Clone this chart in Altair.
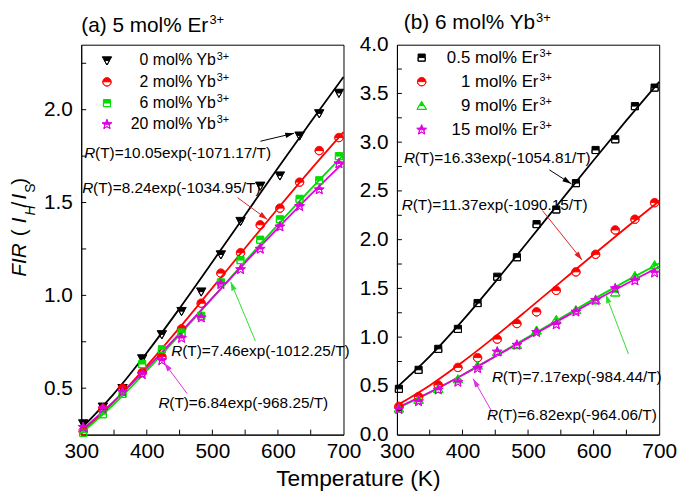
import math
import altair as alt
import pandas as pd

# ---------------- data ----------------
T_pts = [303, 333, 363, 393, 423, 453, 483, 513, 543, 573, 603, 633, 663, 693]
T_fit = [300, 350, 400, 450, 500, 550, 600, 650, 700]

a_labels = ["0 mol% Yb", "2 mol% Yb", "6 mol% Yb", "20 mol% Yb"]
a_yb0 = [0.31, 0.40, 0.50, 0.66, 0.79, 0.915, 1.02, 1.22, 1.40, 1.59, 1.645, 1.86, 1.98, 2.09]
a_yb2 = [0.27, 0.39, 0.50, 0.585, 0.67, 0.82, 0.958, 1.12, 1.23, 1.38, 1.47, 1.61, 1.78, 1.85]
a_yb6 = [0.26, 0.36, 0.47, 0.63, 0.71, 0.80, 0.89, 1.07, 1.19, 1.30, 1.41, 1.52, 1.62, 1.75]
a_yb20 = [0.29, 0.39, 0.48, 0.575, 0.65, 0.77, 0.88, 1.06, 1.14, 1.25, 1.37, 1.48, 1.57, 1.71]
a_fit0 = [0.283, 0.471, 0.691, 0.930, 1.180, 1.433, 1.686, 1.934, 2.176]
a_fit2 = [0.262, 0.428, 0.620, 0.826, 1.040, 1.255, 1.468, 1.677, 1.879]
a_fit6 = [0.256, 0.414, 0.594, 0.787, 0.985, 1.184, 1.381, 1.572, 1.757]
a_fit20 = [0.271, 0.430, 0.608, 0.795, 0.986, 1.176, 1.362, 1.542, 1.715]

b_labels = ["0.5 mol% Er", "1 mol% Er", "9 mol% Er", "15 mol% Er"]
b_er05 = [0.47, 0.665, 0.88, 1.085, 1.35, 1.62, 1.82, 2.16, 2.31, 2.58, 2.92, 3.03, 3.37, 3.56]
b_er1 = [0.29, 0.39, 0.51, 0.69, 0.79, 0.98, 1.14, 1.26, 1.48, 1.67, 1.85, 2.10, 2.21, 2.38]
b_er9 = [0.27, 0.36, 0.47, 0.57, 0.71, 0.85, 0.92, 1.07, 1.18, 1.28, 1.38, 1.46, 1.63, 1.74]
b_er15 = [0.26, 0.34, 0.46, 0.54, 0.68, 0.85, 0.92, 1.05, 1.13, 1.26, 1.38, 1.50, 1.58, 1.66]
b_fit05 = [0.485, 0.802, 1.169, 1.567, 1.981, 2.399, 2.815, 3.223, 3.619]
b_fit1 = [0.300, 0.505, 0.745, 1.008, 1.285, 1.567, 1.848, 2.125, 2.396]
b_fit9 = [0.269, 0.431, 0.612, 0.804, 1.001, 1.197, 1.390, 1.577, 1.757]
b_fit15 = [0.274, 0.434, 0.612, 0.801, 0.992, 1.182, 1.368, 1.548, 1.721]

# annotations (data coordinates)
a_ann_T = [304.5, 301.5, 437.4, 417.7]
a_ann_v = [1.766, 1.580, 0.700, 0.418]
a_ann_text = ["(T)=10.05exp(-1071.17/T)", "(T)=8.24exp(-1034.95/T)",
              "(T)=7.46exp(-1012.25/T)", "(T)=6.84exp(-968.25/T)"]
a_ar_T1 = [573.2, 538.5, 565.7, 461.5]
a_ar_v1 = [1.830, 1.526, 0.754, 0.471]
a_ar_T2 = [624.5, 583.8, 527.9, 426.8]
a_ar_v2 = [1.873, 1.409, 1.073, 0.636]

b_ann_T = [310.6, 307.5, 444.9, 437.4]
b_ann_v = [2.838, 2.360, 0.594, 0.198]
b_ann_text = ["(T)=16.33exp(-1054.81/T)", "(T)=11.37exp(-1090.15/T)",
              "(T)=7.17exp(-984.44/T)", "(T)=6.82exp(-964.06/T)"]
b_ar_T1 = [532.5, 521.9, 653.2, 446.4]
b_ar_v1 = [2.716, 2.299, 0.827, 0.218]
b_ar_T2 = [565.7, 582.3, 618.5, 416.2]
b_ar_v2 = [2.574, 1.792, 1.437, 0.574]

x_label_vals = [300, 400, 500, 600, 700]
x_tick_vals = [350, 400, 450, 500, 550, 600, 650]
a_ylabel_vals = [0.5, 1.0, 1.5, 2.0]
a_ytick_vals = [0.5, 0.75, 1.0, 1.25, 1.5, 1.75, 2.0, 2.25]
b_ylabel_vals = [0.0, 0.5, 1.0, 1.5, 2.0, 2.5, 3.0, 3.5, 4.0]
b_ytick_vals = [0.25, 0.5, 0.75, 1.0, 1.25, 1.5, 1.75, 2.0, 2.25, 2.5, 2.75, 3.0, 3.25, 3.5, 3.75]

# ---------------- styles ----------------
W, H = 265, 394
COLORS = ["#000000", "#ff0000", "#00dd00", "#e000e0"]
ARROW_COLORS = ["#000000", "#e02020", "#30dd30", "#e030e0"]
FONT = "Liberation Sans"


def _fmt(pts):
    return "M" + "L".join(f"{x:.3f},{y:.3f}" for x, y in pts) + "Z"


def _area(pts):
    n = len(pts)
    return sum(pts[i][0] * pts[(i + 1) % n][1] - pts[(i + 1) % n][0] * pts[i][1] for i in range(n)) / 2


def _clip_lower(pts, y0=0.0):
    out = []
    n = len(pts)
    for i in range(n):
        p, q = pts[i - 1], pts[i]
        pin, qin = p[1] >= y0, q[1] >= y0
        if qin != pin:
            t = (y0 - p[1]) / (q[1] - p[1])
            out.append((p[0] + t * (q[0] - p[0]), y0))
        if qin:
            out.append(q)
    return out


def half_filled(pts, y0=0.0):
    low = _clip_lower(pts, y0)
    if _area(low) * _area(pts) > 0:
        low = low[::-1]
    return _fmt(pts) + _fmt(low)


circle_pts = [(0.85 * math.cos(2 * math.pi * k / 36), 0.85 * math.sin(2 * math.pi * k / 36)) for k in range(36)]
star_pts = []
for k in range(10):
    r = 1.05 if k % 2 == 0 else 0.45
    a = -math.pi / 2 + k * math.pi / 5
    star_pts.append((r * math.cos(a), r * math.sin(a)))
square_pts = [(-0.72, -0.72), (0.72, -0.72), (0.72, 0.72), (-0.72, 0.72)]
tri_down_pts = [(-0.95, -0.75), (0.95, -0.75), (0.0, 0.9)]
tri_up_pts = [(0.0, -0.9), (0.95, 0.75), (-0.95, 0.75)]

SH_CIRCLE = half_filled(circle_pts)
SH_STAR = half_filled(star_pts)
SH_SQUARE = half_filled(square_pts)
SH_TDOWN = half_filled(tri_down_pts)
SH_TUP = half_filled(tri_up_pts)
ARROW_PATH = "M0,0L0.5,1.6L-0.5,1.6Z"


def txt(text, x, y, **props):
    return alt.Chart(pd.DataFrame({"t": [text]})).mark_text(**props).encode(
        x=alt.value(x), y=alt.value(y), text="t:N")


def sym(path, color, x, y):
    return alt.Chart(pd.DataFrame({"k": [0]})).mark_point(
        shape=path, filled=True, fill=color, stroke=color, strokeWidth=1, size=100, opacity=1
    ).encode(x=alt.value(x), y=alt.value(y))


def legend_layers(labels, shapes, sym_x, rows, label_end, font):
    out = []
    for lab, shp, col, ry in zip(labels, shapes, COLORS, rows):
        out.append(sym(shp, col, sym_x, ry))
        out.append(txt(lab, label_end, ry, fontSize=font, align="right", baseline="middle"))
        out.append(txt("3+", label_end + 1, ry - 1, fontSize=11, align="left", baseline="alphabetic"))
    return out


def make_panel(labels, pts_lists, fit_lists, shapes, ydom, ylabels, yticks,
               ann_T, ann_v, ann_text, T1, v1, T2, v2, extra):
    pts_df = pd.DataFrame([{"T": t, "v": v, "s": lab}
                           for lab, vals in zip(labels, pts_lists) for t, v in zip(T_pts, vals)])
    fit_df = pd.DataFrame([{"T": t, "v": v, "s": lab}
                           for lab, vals in zip(labels, fit_lists) for t, v in zip(T_fit, vals)])
    xs = alt.Scale(domain=[300, 700], nice=False, zero=False)
    ys = alt.Scale(domain=ydom, nice=False, zero=False)
    xax = alt.Axis(values=x_label_vals, format="d", title=None, ticks=False, tickSize=0,
                   labelPadding=6, grid=False, labelFontSize=21, labelColor="black",
                   domainColor="black", labelFlush=False)
    yax = alt.Axis(values=ylabels, format=".1f", title=None, ticks=False, tickSize=0,
                   labelPadding=9, grid=False, labelFontSize=21, labelColor="black",
                   domainColor="black", labelFlush=False)

    def X(f):
        return alt.X(f, scale=xs, axis=xax)

    def Y(f):
        return alt.Y(f, scale=ys, axis=yax)

    csc = alt.Scale(domain=labels, range=COLORS)
    ssc = alt.Scale(domain=labels, range=shapes)

    lines = alt.Chart(fit_df).mark_line(strokeWidth=1.8, interpolate="monotone").encode(
        x=X("T:Q"), y=Y("v:Q"), color=alt.Color("s:N", scale=csc, legend=None))
    points = alt.Chart(pts_df).mark_point(filled=True, size=100, strokeWidth=1, opacity=1).encode(
        x=X("T:Q"), y=Y("v:Q"),
        fill=alt.Fill("s:N", scale=csc, legend=None),
        stroke=alt.Stroke("s:N", scale=csc, legend=None),
        shape=alt.Shape("s:N", scale=ssc, legend=None))

    sx = W / 400.0
    sy = H / (ydom[1] - ydom[0])
    rows = []
    for i in range(len(T1)):
        dxp = (T2[i] - T1[i]) * sx
        dyp = -(v2[i] - v1[i]) * sy
        ang = math.degrees(math.atan2(dxp, -dyp)) % 360
        rows.append(dict(T1=T1[i], v1=v1[i], T2=T2[i], v2=v2[i], ang=ang, c=ARROW_COLORS[i]))
    ar_df = pd.DataFrame(rows)
    arrows = alt.Chart(ar_df).mark_rule(strokeWidth=1).encode(
        x=X("T1:Q"), y=Y("v1:Q"), x2=alt.X2("T2"), y2=alt.Y2("v2"),
        color=alt.Color("c:N", scale=None))
    heads = alt.Chart(ar_df).mark_point(filled=True, size=121, shape=ARROW_PATH, opacity=1,
                                        strokeWidth=0).encode(
        x=X("T2:Q"), y=Y("v2:Q"), angle=alt.Angle("ang:Q", scale=None),
        color=alt.Color("c:N", scale=None))

    ann_df = pd.DataFrame({"T": ann_T, "v": ann_v, "r": ["R"] * len(ann_T), "t": ann_text})
    ann_r = alt.Chart(ann_df).mark_text(fontSize=15.5, fontStyle="italic", align="left",
                                        baseline="middle").encode(x=X("T:Q"), y=Y("v:Q"), text="r:N")
    ann_t = alt.Chart(ann_df).mark_text(fontSize=15.5, align="left", baseline="middle", dx=11).encode(
        x=X("T:Q"), y=Y("v:Q"), text="t:N")

    yt = alt.Chart(pd.DataFrame({"v": yticks})).mark_rule(color="black", strokeWidth=1).encode(
        y=Y("v:Q"), x=alt.value(0), x2=alt.value(5))
    xt = alt.Chart(pd.DataFrame({"T": x_tick_vals})).mark_rule(color="black", strokeWidth=1).encode(
        x=X("T:Q"), y=alt.value(H), y2=alt.value(H - 5))

    return alt.layer(lines, points, arrows, heads, ann_r, ann_t, yt, xt, *extra).properties(
        width=W, height=H)


# left panel decorations
ytitle_x = -56
ybase = 234.5
left_extra = [
    txt("(a) 5 mol% Er", 0, -12.5, fontSize=21, align="left", baseline="alphabetic"),
    txt("3+", 129.5, -20.5, fontSize=13, align="left", baseline="alphabetic"),
    txt("FIR", ytitle_x, ybase - 0, fontSize=21, fontStyle="italic", angle=270, align="left", baseline="alphabetic"),
    txt("(", ytitle_x, ybase - 41, fontSize=21, angle=270, align="left", baseline="alphabetic"),
    txt("I", ytitle_x, ybase - 54, fontSize=21, fontStyle="italic", angle=270, align="left", baseline="alphabetic"),
    txt("H", ytitle_x + 9, ybase - 62, fontSize=14, fontStyle="italic", angle=270, align="left", baseline="alphabetic"),
    txt("/", ytitle_x, ybase - 70, fontSize=21, angle=270, align="left", baseline="alphabetic"),
    txt("I", ytitle_x, ybase - 78, fontSize=21, fontStyle="italic", angle=270, align="left", baseline="alphabetic"),
    txt("S", ytitle_x + 9, ybase - 85, fontSize=14, angle=270, align="left", baseline="alphabetic"),
    txt(")", ytitle_x, ybase - 93, fontSize=21, angle=270, align="left", baseline="alphabetic"),
    txt("Temperature (K)", 280, 445.5, fontSize=23, align="center", baseline="alphabetic"),
] + legend_layers(a_labels, [SH_TDOWN, SH_CIRCLE, SH_SQUARE, SH_STAR], 26,
                  [16, 37.5, 59, 80.5], 136, 16)

right_extra = [
    txt("(b) 6 mol% Yb", 7, -15.5, fontSize=21, align="left", baseline="alphabetic"),
    txt("3+", 140.5, -23, fontSize=13, align="left", baseline="alphabetic"),
] + legend_layers(b_labels, [SH_SQUARE, SH_CIRCLE, SH_TUP, SH_STAR], 25,
                  [13, 37.3, 61.6, 86], 143, 17)

left = make_panel(a_labels, [a_yb0, a_yb2, a_yb6, a_yb20], [a_fit0, a_fit2, a_fit6, a_fit20],
                  [SH_TDOWN, SH_CIRCLE, SH_SQUARE, SH_STAR], [0.25, 2.35], a_ylabel_vals, a_ytick_vals,
                  a_ann_T, a_ann_v, a_ann_text, a_ar_T1, a_ar_v1, a_ar_T2, a_ar_v2, left_extra)
right = make_panel(b_labels, [b_er05, b_er1, b_er9, b_er15], [b_fit05, b_fit1, b_fit9, b_fit15],
                   [SH_SQUARE, SH_CIRCLE, SH_TUP, SH_STAR], [0.0, 4.0], b_ylabel_vals, b_ytick_vals,
                   b_ann_T, b_ann_v, b_ann_text, b_ar_T1, b_ar_v1, b_ar_T2, b_ar_v2, right_extra)

chart = alt.hconcat(left, right, spacing=54, bounds="flush").resolve_scale(
    fill="independent", stroke="independent", shape="independent", color="independent",
    x="independent", y="independent"
).properties(
    autosize=alt.AutoSizeParams(type="none"),
    padding={"left": 74, "top": 32.5, "right": 602, "bottom": 449.5}
).configure(font=FONT).configure_view(stroke="black", strokeWidth=1)

chart.save("out.html", embed_options={"renderer": "svg", "actions": False})
